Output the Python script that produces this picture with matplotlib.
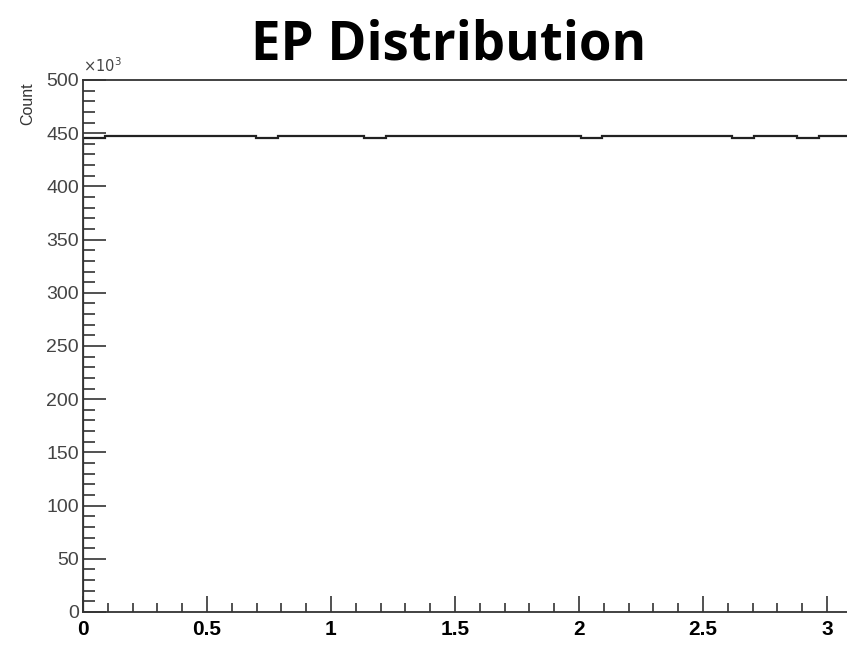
import numpy as np
import matplotlib.pyplot as plt
from matplotlib.ticker import MultipleLocator

# EP angle histogram, 36 bins over [0, pi], counts in units of 10^3
n_bins = 36
counts = [445.4, 447.6, 447.6, 447.6, 447.6, 447.6, 447.6, 447.6,
          445.3, 447.6, 447.6, 447.6, 447.6, 445.3, 447.6, 447.6,
          447.6, 447.6, 447.6, 447.6, 447.6, 447.6, 447.6, 445.3,
          447.6, 447.6, 447.6, 447.6, 447.6, 447.6, 445.3, 447.6,
          447.6, 445.3, 447.6, 447.6]
x_ticks = [0, 0.5, 1, 1.5, 2, 2.5, 3]
y_ticks = [0, 50, 100, 150, 200, 250, 300, 350, 400, 450, 500]

edges = np.linspace(0, np.pi, n_bins + 1)

fig = plt.figure(figsize=(8.47, 6.61), dpi=100)
# axes run past the right edge of the picture (the original is cropped)
ax = fig.add_axes([83 / 847, 49 / 661, 779 / 847, 532 / 661])

ax.stairs(counts, edges, color='#222222', linewidth=1.6)

ax.set_xlim(0, np.pi)
ax.set_ylim(0, 500)
ax.set_xticks(x_ticks)
ax.set_xticklabels(['0', '0.5', '1', '1.5', '2', '2.5', '3'])
ax.set_yticks(y_ticks)
ax.xaxis.set_minor_locator(MultipleLocator(0.1))
ax.yaxis.set_minor_locator(MultipleLocator(10))

for s in ax.spines.values():
    s.set_color('#333333')
    s.set_linewidth(1.3)

ax.tick_params(axis='y', which='major', direction='in', length=16.5, width=1.2,
               color='#333333', labelsize=14, labelcolor='#444444', pad=3)
ax.tick_params(axis='y', which='minor', direction='in', length=8.5, width=1.2,
               color='#333333')
ax.tick_params(axis='x', which='major', direction='in', length=11.5, width=1.2,
               color='#333333', labelsize=15, pad=6)
ax.tick_params(axis='x', which='minor', direction='in', length=6.5, width=1.2,
               color='#333333')
ax.tick_params(top=False, right=False, which='both')

for lab in ax.get_yticklabels():
    lab.set_family('Liberation Sans')
for lab in ax.get_xticklabels():
    lab.set_family('Liberation Sans')
    lab.set_fontweight('bold')

fig.text(83 / 847, 1 - 75 / 661, r'$\times10^3$', fontsize=10.5, color='#444444',
         family='Liberation Sans', ha='left', va='bottom')
fig.text(28 / 847, 1 - 82 / 661, 'Count', rotation=90, fontsize=11.5,
         color='#333333', family='Liberation Sans', ha='center', va='top')

fig.text(449 / 847, 1 - 59 / 661, 'EP Distribution', fontsize=38,
         fontweight='bold', family='Open Sans', ha='center', va='baseline')

fig.savefig('out.png', dpi=100)
